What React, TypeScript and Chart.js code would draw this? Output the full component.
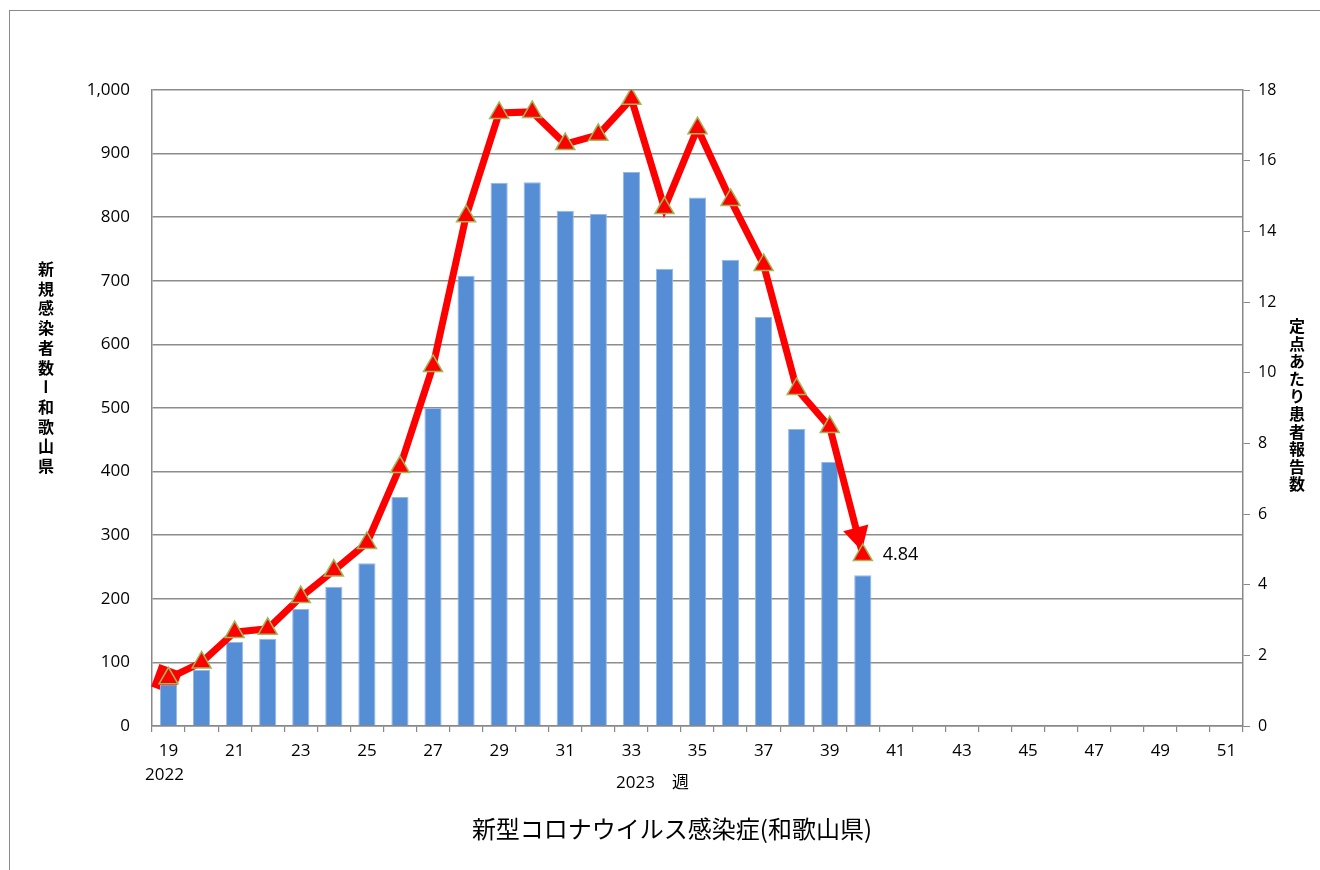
import React, { useEffect, useRef } from "react";
import { Chart, registerables } from "chart.js";
Chart.register(...registerables);

const weeks: string[] = [
  "19", "20", "21", "22", "23", "24", "25", "26", "27", "28", "29", "30", "31", "32", "33", "34", "35",
  "36", "37", "38", "39", "40", "41", "42", "43", "44", "45", "46", "47", "48", "49", "50", "51",
];
const newCases: (number | null)[] = [
  65, 88, 132, 137, 184, 219, 256, 360, 500, 708, 854, 855, 810, 805, 871, 719, 831, 733, 643, 467, 415, 237,
];
const perSentinel: (number | null)[] = [
  1.35, 1.8, 2.66, 2.75, 3.65, 4.4, 5.18, 7.33, 10.19, 14.43, 17.35, 17.38, 16.47, 16.73, 17.75, 14.66, 16.92,
  14.89, 13.05, 9.54, 8.46, 4.84,
];
const lastLabel = "4.84";
const leftTitle = "新規感染者数ー和歌山県";
const rightTitle = "定点あたり患者報告数";
const chartTitle = "新型コロナウイルス感染症(和歌山県)";
const yearStart = "2022";
const yearMid = "2023　週";

const tickFont = { family: "'Open Sans', 'Liberation Sans', sans-serif", size: 17 };

const arrowPlugin = {
  id: "arrowEnds",
  beforeDatasetsDraw(chart: any) {
    const meta = chart.getDatasetMeta(1);
    const pts = meta.data.filter((p: any, i: number) => perSentinel[i] != null);
    if (pts.length < 2) return;
    const ctx = chart.ctx;
    ctx.save();
    ctx.fillStyle = "#FF0000";
    const a = pts[pts.length - 2];
    const b = pts[pts.length - 1];
    const ang = Math.atan2(b.y - a.y, b.x - a.x);
    ctx.translate(b.x, b.y);
    ctx.rotate(ang);
    ctx.beginPath();
    ctx.moveTo(-4, 0);
    ctx.lineTo(-28, -13);
    ctx.lineTo(-28, 13);
    ctx.closePath();
    ctx.fill();
    ctx.restore();
    const s0 = pts[0];
    const s1 = pts[1];
    const ang0 = Math.atan2(s1.y - s0.y, s1.x - s0.x);
    ctx.save();
    ctx.fillStyle = "#FF0000";
    ctx.translate(s0.x - 2, s0.y + 1);
    ctx.rotate(ang0 + 0.8);
    ctx.fillRect(-12, -12, 24, 24);
    ctx.restore();
  },
  afterDatasetsDraw(chart: any) {
    const meta = chart.getDatasetMeta(1);
    let idx = -1;
    perSentinel.forEach((v, i) => { if (v != null) idx = i; });
    const p = meta.data[idx];
    if (!p) return;
    const ctx = chart.ctx;
    ctx.save();
    ctx.fillStyle = "#000";
    ctx.font = "18px 'Open Sans', 'Liberation Sans', sans-serif";
    ctx.textAlign = "left";
    ctx.textBaseline = "middle";
    ctx.fillText(lastLabel, p.x + 20, p.y);
    ctx.restore();
  },
};

export default function App() {
  const ref = useRef<HTMLCanvasElement>(null);
  useEffect(() => {
    document.body.style.margin = "0";
    document.body.style.overflow = "hidden";
    const pad = (arr: (number | null)[]) => weeks.map((_, i) => (i < arr.length ? arr[i] : null));
    const chart = new Chart(ref.current!, {
      type: "bar",
      data: {
        labels: weeks,
        datasets: [
          {
            type: "bar",
            label: "新規感染者数",
            data: pad(newCases),
            yAxisID: "y",
            backgroundColor: "#558ED5",
            borderColor: "#95B8E6",
            borderWidth: 1,
            barPercentage: 0.52,
            categoryPercentage: 1,
            order: 2,
          },
          {
            type: "line",
            label: "定点あたり患者報告数",
            data: pad(perSentinel),
            yAxisID: "y1",
            borderColor: "#FF0000",
            borderWidth: 7,
            pointStyle: "triangle",
            pointRadius: 11,
            pointHoverRadius: 11,
            pointBackgroundColor: "#FF0000",
            pointBorderColor: "#9BBB59",
            pointBorderWidth: 1.5,
            tension: 0,
            order: 1,
          } as any,
        ],
      },
      options: {
        animation: false,
        responsive: false,
        maintainAspectRatio: false,
        layout: { padding: { top: 90, left: 0, right: 0, bottom: 0 } },
        plugins: { legend: { display: false }, tooltip: { enabled: false } },
        scales: {
          x: {
            type: "category",
            offset: true,
            grid: { offset: true, drawOnChartArea: false, drawTicks: true, tickLength: 6, color: "#888", lineWidth: 1.2 },
            border: { color: "#888", width: 1.5 },
            ticks: {
              autoSkip: false,
              maxRotation: 0,
              minRotation: 0,
              color: "#000",
              font: tickFont,
              padding: 9,
              callback: (_v: any, i: number) => (i % 2 === 0 ? weeks[i] : ""),
            },
            afterFit: (s: any) => { s.height = 144; },
          },
          y: {
            position: "left",
            min: 0,
            max: 1000,
            ticks: {
              stepSize: 100,
              color: "#000",
              font: tickFont,
              padding: 22,
              callback: (v: any) => Number(v).toLocaleString("en-US"),
            },
            grid: { color: "#8c8c8c", lineWidth: 1.5, drawTicks: false },
            border: { color: "#888", width: 1.5 },
            afterFit: (s: any) => { s.width = 152; },
          },
          y1: {
            position: "right",
            min: 0,
            max: 18,
            ticks: { stepSize: 2, color: "#000", font: { ...tickFont, size: 16 }, padding: 8 },
            grid: { drawOnChartArea: false, drawTicks: true, tickLength: 7, color: "#888" },
            border: { color: "#888", width: 1.5 },
            afterFit: (s: any) => { s.width = 77; },
          },
        },
      },
      plugins: [arrowPlugin],
    });
    return () => chart.destroy();
  }, []);

  const vertical: React.CSSProperties = {
    position: "absolute",
    writingMode: "vertical-rl",
    textOrientation: "upright",
    fontFamily: "'Noto Sans CJK JP', sans-serif",
    fontWeight: 700,
    fontSize: 16,
    color: "#000",
    lineHeight: 1,
  };

  return (
    <div style={{ position: "relative", width: 1320, height: 870, overflow: "hidden", background: "#fff" }}>
      <div
        style={{
          position: "absolute",
          left: 9,
          top: 10,
          width: 1330,
          height: 880,
          border: "1.5px solid #8a8a8a",
          boxSizing: "border-box",
        }}
      />
      <canvas ref={ref} width={1320} height={870} style={{ position: "absolute", left: 0, top: 0 }} />
      <div style={{ ...vertical, left: 38, top: 261, letterSpacing: 3.7 }}>{leftTitle}</div>
      <div style={{ ...vertical, left: 1289, top: 318, letterSpacing: 1.6 }}>{rightTitle}</div>
      <div
        style={{
          position: "absolute",
          left: 145,
          top: 762,
          fontFamily: "'Open Sans', sans-serif",
          fontSize: 17,
          color: "#000",
        }}
      >
        {yearStart}
      </div>
      <div
        style={{
          position: "absolute",
          left: 616,
          top: 768,
          fontFamily: "'Open Sans', 'Noto Sans CJK JP', sans-serif",
          fontSize: 17,
          color: "#000",
        }}
      >
        {yearMid}
      </div>
      <div
        style={{
          position: "absolute",
          left: 0,
          width: 1344,
          top: 810,
          textAlign: "center",
          fontFamily: "'Noto Sans CJK JP', sans-serif",
          fontSize: 24,
          color: "#000",
        }}
      >
        {chartTitle}
      </div>
    </div>
  );
}
